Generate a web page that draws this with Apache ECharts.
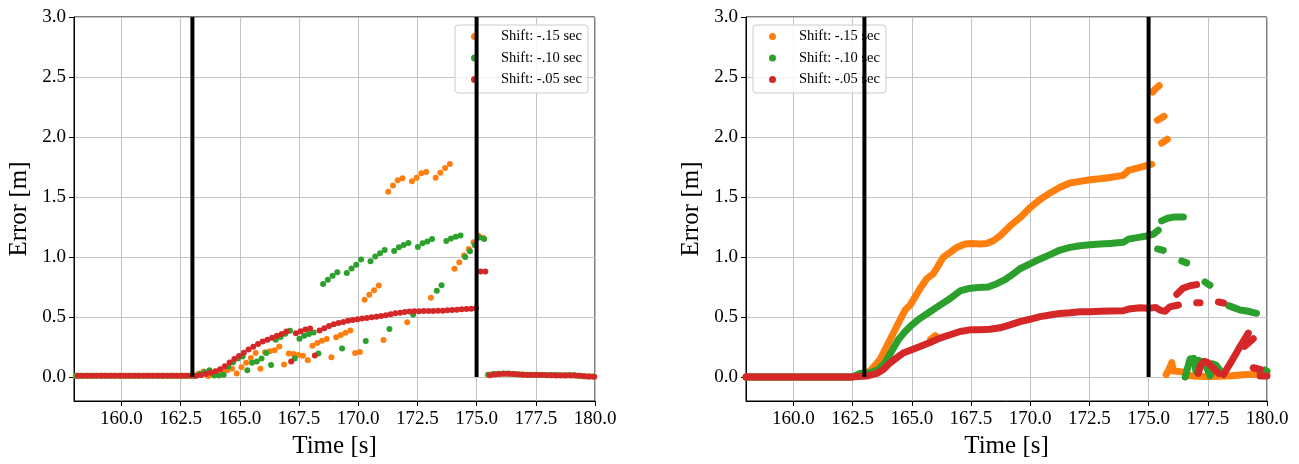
<!DOCTYPE html>
<html>
<head>
<meta charset="utf-8">
<script src="https://cdn.jsdelivr.net/npm/echarts@6/dist/echarts.min.js"></script>
<style>
  html, body { margin: 0; padding: 0; background: #fff; }
  #chart { width: 1299px; height: 464px; }
</style>
</head>
<body>
<div id="chart"></div>
<script>
// --- data ---
const seriesNames = ['Shift: -.15 sec', 'Shift: -.10 sec', 'Shift: -.05 sec'];
const seriesColors = ['#ff7f0e', '#2ca02c', '#d62728'];

const xTicks = [160.0, 162.5, 165.0, 167.5, 170.0, 172.5, 175.0, 177.5, 180.0];
const yTicks = [0.0, 0.5, 1.0, 1.5, 2.0, 2.5, 3.0];
const eventTimes = [163.0, 175.0];
const eventRange = [0.0, 3.0];

// left panel: samples every 0.2 s, each shift starting a bit earlier
const sampleStep = 0.2;
const leftOrangeStart = 158.07;
const leftOrange = [
  0.01, 0.01, 0.01, 0.01, 0.01, 0.01, 0.01, 0.01, 0.01, 0.01,
  0.01, 0.01, 0.01, 0.01, 0.01, 0.01, 0.01, 0.01, 0.01, 0.01,
  0.01, 0.01, 0.01, 0.01, 0.01, 0.01, 0.03, 0.046, 0.008, 0.03,
  0.045, 0.05, 0.057, 0.068, 0.03, 0.082, 0.118, 0.159, 0.2, 0.068,
  0.206, 0.214, 0.222, 0.255, 0.104, 0.195, 0.192, 0.184, 0.178, 0.14,
  0.261, 0.283, 0.302, 0.316, 0.165, 0.332, 0.349, 0.368, 0.387, 0.2,
  0.209, 0.644, 0.685, 0.723, 0.762, 0.308, 1.543, 1.595, 1.639, 1.656,
  0.456, 1.631, 1.661, 1.697, 1.708, 0.66, 1.661, 1.702, 1.741, 1.774,
  0.902, 0.957, 1.012, 1.067, 1.122, 1.18, 1.16, 0.018, 0.022, 0.026,
  0.028, 0.028, 0.026, 0.022, 0.02, 0.018, 0.018, 0.018, 0.017, 0.016,
  0.015, 0.015, 0.015, 0.014, 0.014, 0.013, 0.01, 0.007, 0.005, 0.004
];
const leftGreenStart = 158.12;
const leftGreen = [
  0.01, 0.01, 0.01, 0.01, 0.01, 0.01, 0.01, 0.01, 0.01, 0.01,
  0.01, 0.01, 0.01, 0.01, 0.01, 0.01, 0.01, 0.01, 0.01, 0.01,
  0.01, 0.01, 0.01, 0.01, 0.01, 0.01, 0.025, 0.04, 0.057, 0.013,
  0.013, 0.019, 0.085, 0.123, 0.155, 0.17, 0.057, 0.118, 0.129, 0.154,
  0.2, 0.099, 0.311, 0.333, 0.36, 0.385, 0.154, 0.319, 0.344, 0.358,
  0.371, 0.195, 0.776, 0.811, 0.844, 0.872, 0.237, 0.866, 0.905, 0.935,
  0.979, 0.3, 0.965, 1.004, 1.031, 1.059, 0.399, 1.051, 1.081, 1.1,
  1.117, 0.52, 1.084, 1.114, 1.13, 1.15, 0.718, 0.765, 1.133, 1.155,
  1.169, 1.18, 1.0, 1.048, 1.1, 1.163, 1.15, 0.018, 0.024, 0.028,
  0.03, 0.029, 0.026, 0.022, 0.02, 0.019, 0.019, 0.018, 0.017, 0.017,
  0.016, 0.016, 0.015, 0.015, 0.016, 0.014, 0.011, 0.007, 0.005, 0.004
];
const leftRedStart = 158.17;
const leftRed = [
  0.01, 0.01, 0.01, 0.01, 0.01, 0.01, 0.01, 0.01, 0.01, 0.01,
  0.01, 0.01, 0.01, 0.01, 0.01, 0.01, 0.01, 0.01, 0.01, 0.01,
  0.01, 0.01, 0.01, 0.01, 0.01, 0.01, 0.016, 0.024, 0.035, 0.047,
  0.065, 0.09, 0.12, 0.15, 0.176, 0.202, 0.23, 0.252, 0.274, 0.295,
  0.311, 0.328, 0.344, 0.358, 0.38, 0.13, 0.365, 0.382, 0.395, 0.405,
  0.18, 0.387, 0.407, 0.426, 0.44, 0.451, 0.459, 0.468, 0.476, 0.481,
  0.487, 0.492, 0.498, 0.503, 0.509, 0.514, 0.523, 0.531, 0.536, 0.542,
  0.545, 0.547, 0.547, 0.55, 0.55, 0.55, 0.553, 0.553, 0.556, 0.558,
  0.561, 0.564, 0.567, 0.569, 0.572, 0.88, 0.88, 0.015, 0.02, 0.024,
  0.027, 0.027, 0.024, 0.02, 0.018, 0.016, 0.016, 0.016, 0.016, 0.015,
  0.014, 0.013, 0.013, 0.013, 0.013, 0.012, 0.01, 0.006, 0.004, 0.003
];

// right panel: dense traces, kept as [time, error] runs
const rightOrange = [
  [[158.0, 0.0], [160.0, 0.0], [162.5, 0.0], [162.81, 0.02], [163.24, 0.049], [163.66, 0.145],
   [163.94, 0.255], [164.22, 0.365], [164.5, 0.475], [164.72, 0.558], [164.93, 0.599], [165.14, 0.668],
   [165.35, 0.737], [165.63, 0.819], [165.91, 0.86], [166.12, 0.929], [166.33, 0.998], [166.62, 1.039],
   [166.9, 1.08], [167.25, 1.108], [167.53, 1.113], [167.88, 1.108], [168.16, 1.113], [168.44, 1.135],
   [168.73, 1.177], [169.15, 1.259], [169.57, 1.328], [169.99, 1.41], [170.42, 1.479], [170.84, 1.534],
   [171.26, 1.581], [171.68, 1.617], [172.1, 1.63], [172.53, 1.644], [172.95, 1.652], [173.37, 1.663],
   [173.93, 1.68], [174.15, 1.721], [174.64, 1.746], [175.13, 1.773]],
  [[165.8, 0.315], [166.0, 0.345]],
  [[175.17, 2.374], [175.31, 2.405], [175.45, 2.428]],
  [[175.37, 2.14], [175.65, 2.172]],
  [[175.55, 1.948], [175.79, 1.981]],
  [[175.74, 0.02], [175.86, 0.06], [175.98, 0.12], [176.04, 0.05], [176.3, 0.045], [176.5, 0.04],
   [176.61, 0.015], [177.0, 0.006], [177.5, 0.004], [178.0, 0.006], [178.5, 0.01], [179.0, 0.018],
   [179.56, 0.022], [179.99, 0.036]]
];
const rightGreen = [
  [[158.0, 0.0], [160.0, 0.0], [162.5, 0.0], [162.81, 0.03], [163.24, 0.035], [163.59, 0.063],
   [163.87, 0.118], [164.15, 0.214], [164.43, 0.31], [164.72, 0.379], [165.0, 0.434], [165.35, 0.489],
   [165.77, 0.544], [166.19, 0.599], [166.62, 0.654], [167.04, 0.717], [167.39, 0.737], [167.81, 0.745],
   [168.23, 0.75], [168.59, 0.778], [168.94, 0.811], [169.15, 0.84], [169.57, 0.902], [169.99, 0.943],
   [170.42, 0.984], [170.84, 1.02], [171.26, 1.058], [171.68, 1.08], [172.1, 1.094], [172.53, 1.102],
   [172.95, 1.108], [173.37, 1.113], [173.93, 1.122], [174.15, 1.149], [174.64, 1.166], [174.92, 1.175],
   [175.2, 1.19], [175.41, 1.223]],
  [[175.55, 1.301], [175.8, 1.323], [176.1, 1.334], [176.47, 1.334]],
  [[175.38, 1.067], [175.62, 1.055]],
  [[176.4, 0.967], [176.61, 0.951]],
  [[177.38, 0.792], [177.59, 0.765]],
  [[178.37, 0.595], [178.6, 0.578], [178.86, 0.558], [179.2, 0.548], [179.56, 0.531]],
  [[176.55, 0.0], [176.65, 0.08], [176.75, 0.15], [176.9, 0.155], [177.0, 0.05], [177.1, 0.14],
   [177.3, 0.12], [177.45, 0.08], [177.6, 0.01], [177.7, 0.11], [177.85, 0.1], [178.0, 0.06]],
  [[179.7, 0.04], [179.9, 0.06], [180.0, 0.05]]
];
const rightRed = [
  [[158.0, 0.0], [160.0, 0.0], [162.39, 0.0], [163.1, 0.008], [163.52, 0.03], [163.8, 0.063],
   [164.08, 0.118], [164.36, 0.159], [164.64, 0.2], [165.0, 0.228], [165.35, 0.255], [165.77, 0.288],
   [166.19, 0.324], [166.62, 0.352], [167.04, 0.379], [167.46, 0.393], [167.88, 0.393], [168.3, 0.398],
   [168.73, 0.41], [169.15, 0.434], [169.57, 0.462], [169.99, 0.481], [170.42, 0.503], [170.84, 0.517],
   [171.26, 0.53], [171.68, 0.536], [172.1, 0.544], [172.53, 0.544], [172.95, 0.547], [173.37, 0.55],
   [173.93, 0.552], [174.15, 0.566], [174.64, 0.577], [174.99, 0.572], [175.3, 0.58], [175.5, 0.555],
   [175.7, 0.548], [175.9, 0.585], [176.26, 0.6]],
  [[176.19, 0.69], [176.45, 0.74], [176.75, 0.76], [177.03, 0.77]],
  [[177.03, 0.619], [177.17, 0.619]],
  [[177.95, 0.625], [178.16, 0.617]],
  [[177.1, 0.03], [177.2, 0.1], [177.35, 0.13], [177.5, 0.12], [177.65, 0.09], [177.8, 0.06], [177.95, 0.03]],
  [[178.16, 0.02], [178.5, 0.13], [178.85, 0.25], [179.21, 0.366]],
  [[179.05, 0.255], [179.2, 0.28], [179.42, 0.32]],
  [[179.42, 0.077], [179.71, 0.063]],
  [[179.71, 0.008], [180.0, 0.008]]
];

// --- chart ---
const serif = 'Liberation Serif';
const dom = document.getElementById('chart');
const myChart = echarts.init(dom, null, { renderer: 'canvas' });

function sampled(start, values) {
    return values.map((v, i) => [+(start + i * sampleStep).toFixed(2), v]);
}

function makeX(gridIndex) {
    return {
        type: 'value', gridIndex: gridIndex, min: 158, max: 180,
        name: 'Time [s]', nameLocation: 'middle', nameGap: 33,
        nameTextStyle: { fontFamily: serif, fontSize: 25, color: '#000' },
        axisLine: { show: true, onZero: false, lineStyle: { color: '#000', width: 1 } },
        axisTick: { show: true, inside: false, length: 5, customValues: xTicks, lineStyle: { color: '#000' } },
        axisLabel: { customValues: xTicks, formatter: v => v.toFixed(1), fontFamily: serif, fontSize: 19, color: '#000', margin: 9 },
        splitLine: { show: true, lineStyle: { color: '#c4c4c4', width: 1 } }
    };
}

function makeY(gridIndex) {
    return {
        type: 'value', gridIndex: gridIndex, min: -0.2, max: 3.0,
        name: 'Error [m]', nameLocation: 'middle', nameGap: 42, nameRotate: 90,
        nameTextStyle: { fontFamily: serif, fontSize: 25, color: '#000' },
        axisLine: { show: true, onZero: false, lineStyle: { color: '#000', width: 1 } },
        axisTick: { show: true, inside: false, length: 5, customValues: yTicks, lineStyle: { color: '#000' } },
        axisLabel: { customValues: yTicks, formatter: v => v.toFixed(1), fontFamily: serif, fontSize: 19, color: '#000', margin: 8 },
        splitLine: { show: true, lineStyle: { color: '#c4c4c4', width: 1 } }
    };
}

function makeLegend(left) {
    return {
        left: left, top: 25, orient: 'vertical',
        data: seriesNames, icon: 'circle', itemWidth: 7, itemHeight: 7, itemGap: 6.5,
        padding: [4, 6, 6, 16],
        backgroundColor: 'rgba(255,255,255,0.85)', borderColor: '#cccccc', borderWidth: 1, borderRadius: 3,
        textStyle: { fontFamily: serif, fontSize: 14.5, color: '#000', padding: [0, 0, 0, 18] },
        selectedMode: false
    };
}

const series = [];
const leftData = [
    sampled(leftOrangeStart, leftOrange),
    sampled(leftGreenStart, leftGreen),
    sampled(leftRedStart, leftRed)
];
leftData.forEach((d, i) => {
    series.push({
        type: 'scatter', name: seriesNames[i], xAxisIndex: 0, yAxisIndex: 0,
        data: d, symbolSize: 6, itemStyle: { color: seriesColors[i], opacity: 1 }, z: 2 + i
    });
});

[rightOrange, rightGreen, rightRed].forEach((runs, i) => {
    runs.forEach(run => {
        series.push({
            type: 'line', name: seriesNames[i], xAxisIndex: 1, yAxisIndex: 1,
            data: run, showSymbol: false, symbol: 'none',
            itemStyle: { color: seriesColors[i] },
            lineStyle: { color: seriesColors[i], width: 7, cap: 'round', join: 'round' },
            z: 2 + i
        });
    });
});

// black marker lines at the two event times, on top of the data
[0, 1].forEach(g => {
    eventTimes.forEach(t => {
        series.push({
            type: 'line', name: 'event', xAxisIndex: g, yAxisIndex: g,
            data: [[t, eventRange[0]], [t, eventRange[1]]],
            showSymbol: false, symbol: 'none',
            lineStyle: { color: '#000', width: 4 }, z: 10
        });
    });
});

const option = {
    animation: false,
    backgroundColor: '#fff',
    grid: [
        { left: 74, top: 17, width: 521, height: 388, show: true, borderColor: '#000', borderWidth: 1, backgroundColor: 'transparent' },
        { left: 746, top: 17, width: 521, height: 388, show: true, borderColor: '#000', borderWidth: 1, backgroundColor: 'transparent' }
    ],
    xAxis: [makeX(0), makeX(1)],
    yAxis: [makeY(0), makeY(1)],
    legend: [makeLegend(455), makeLegend(753)],
    series: series
};

myChart.setOption(option);
</script>
</body>
</html>
